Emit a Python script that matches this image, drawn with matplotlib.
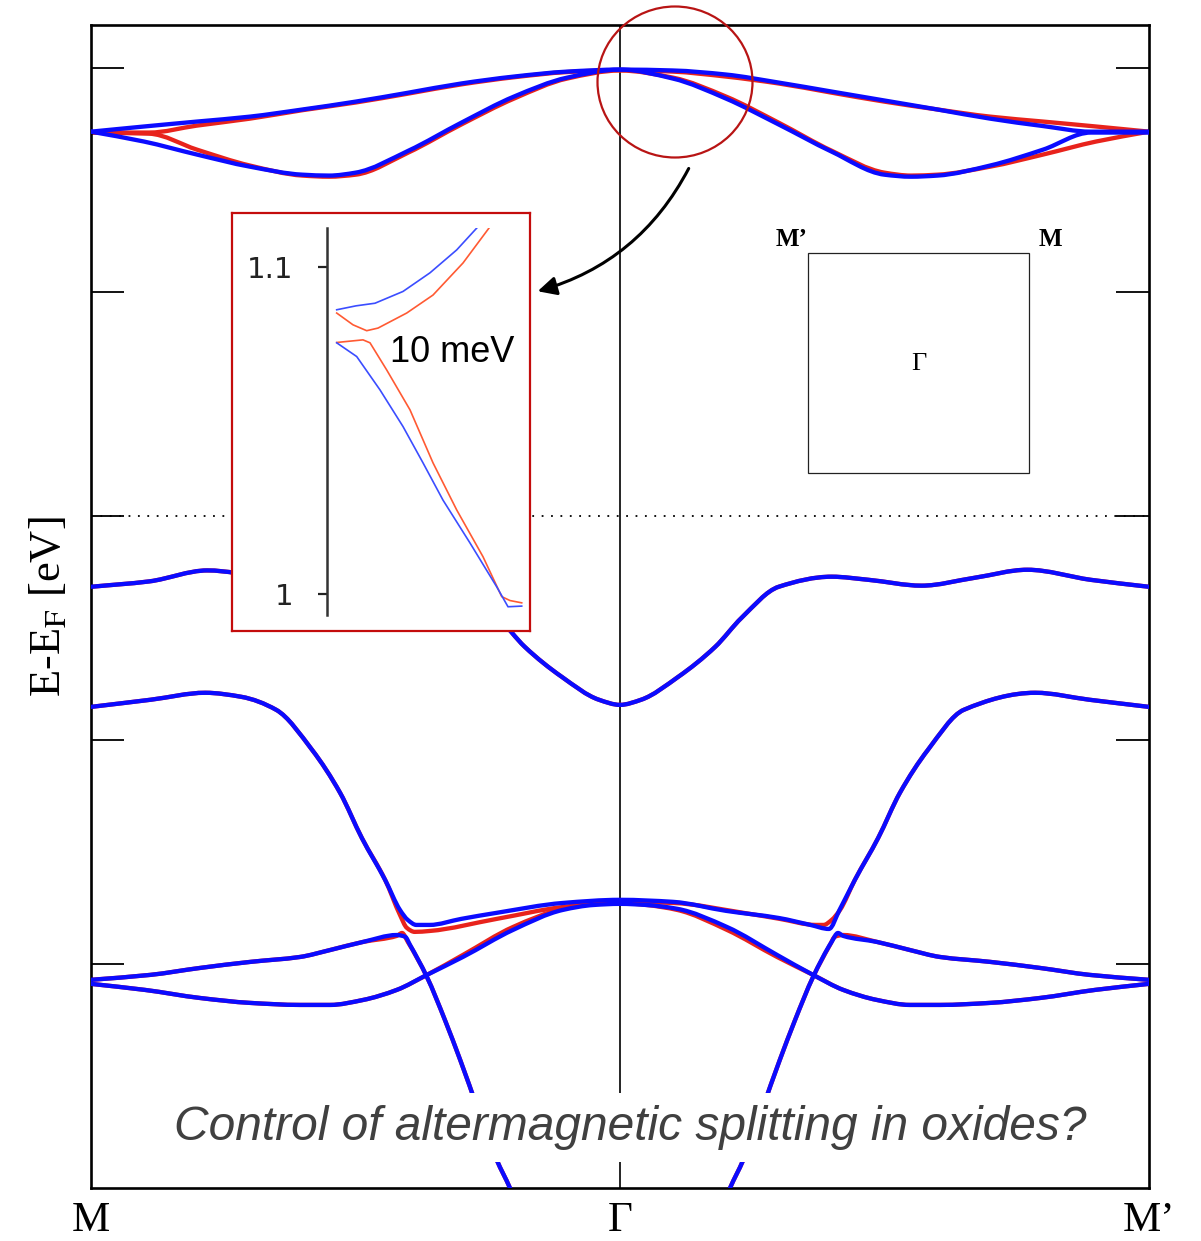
import numpy as np
import matplotlib
matplotlib.use('Agg')
import matplotlib.pyplot as plt
from matplotlib.path import Path
from matplotlib.patches import Ellipse, Rectangle, FancyArrowPatch, PathPatch

# band structure along M - Gamma - M'  (k: M=0, Gamma=1, M'=2 ; energies in eV, E-E_F)

# top pair of bands
top1_dn_k = [0, 0.10, 0.20, 0.30, 0.40, 0.50, 0.60, 0.70, 0.80, 0.90, 1.00,
             1.10, 1.20, 1.30, 1.40, 1.50, 1.60, 1.70, 1.80, 1.89, 2.00]
top1_dn_E = [1.714, 1.737, 1.759, 1.781, 1.813, 1.848, 1.888, 1.929, 1.960, 1.982, 1.991,
             1.987, 1.969, 1.933, 1.893, 1.853, 1.813, 1.772, 1.739, 1.714, 1.714]
top1_up_k = [0, 0.11, 0.20, 0.30, 0.40, 0.50, 0.60, 0.70, 0.80, 0.90, 1.00,
             1.10, 1.20, 1.30, 1.40, 1.50, 1.60, 1.70, 1.80, 1.90, 2.00]
top1_up_E = [1.710, 1.710, 1.741, 1.772, 1.810, 1.844, 1.884, 1.925, 1.957, 1.980, 1.989,
             1.982, 1.960, 1.929, 1.888, 1.848, 1.813, 1.781, 1.759, 1.737, 1.714]

top2_dn_k = [0, 0.10, 0.20, 0.30, 0.40, 0.45, 0.50, 0.60, 0.70, 0.80, 0.90, 1.00,
             1.10, 1.20, 1.30, 1.40, 1.50, 1.55, 1.60, 1.70, 1.80, 1.89, 2.00]
top2_dn_E = [1.714, 1.670, 1.612, 1.558, 1.522, 1.518, 1.531, 1.629, 1.754, 1.871, 1.955, 1.991,
             1.951, 1.862, 1.746, 1.625, 1.522, 1.513, 1.518, 1.563, 1.634, 1.710, 1.710]
top2_up_k = [0, 0.11, 0.20, 0.30, 0.40, 0.45, 0.50, 0.60, 0.70, 0.80, 0.90, 1.00,
             1.10, 1.20, 1.30, 1.40, 1.50, 1.55, 1.60, 1.70, 1.80, 1.90, 2.00]
top2_up_E = [1.710, 1.705, 1.634, 1.563, 1.518, 1.513, 1.522, 1.621, 1.746, 1.862, 1.951, 1.987,
             1.955, 1.871, 1.754, 1.629, 1.531, 1.518, 1.522, 1.558, 1.612, 1.670, 1.714]

# band crossing E_F region (both spins nearly identical)
mid1_k = [0, 0.11, 0.22, 0.33, 0.43, 0.53, 0.60, 0.70, 0.77, 0.82, 0.89, 0.96, 1.00,
          1.04, 1.11, 1.18, 1.23, 1.30, 1.40, 1.47, 1.57, 1.67, 1.77, 1.89, 2.00]
mid1_E = [-0.317, -0.293, -0.244, -0.277, -0.312, -0.286, -0.272, -0.317, -0.455, -0.585,
          -0.719, -0.821, -0.844, -0.821, -0.719, -0.585, -0.455, -0.317, -0.272,
          -0.286, -0.312, -0.277, -0.241, -0.286, -0.317]

# band coming down from -0.85 eV into the lower manifold
mid2_dn_k = [0, 0.113, 0.216, 0.284, 0.35, 0.418, 0.471, 0.512, 0.556, 0.584, 0.599, 0.615,
             0.64, 0.70, 0.767, 0.892, 1.00, 1.10, 1.20, 1.30, 1.36, 1.395, 1.415, 1.444,
             1.488, 1.529, 1.582, 1.650, 1.785, 1.887, 2.00]
mid2_dn_E = [-0.853, -0.821, -0.790, -0.808, -0.866, -1.045, -1.237, -1.438, -1.625, -1.759,
             -1.804, -1.826, -1.826, -1.799, -1.772, -1.728, -1.714, -1.723, -1.763, -1.795,
             -1.826, -1.844, -1.759, -1.625, -1.438, -1.237, -1.045, -0.866, -0.790, -0.821,
             -0.853]
mid2_up_k = [0, 0.113, 0.216, 0.284, 0.35, 0.418, 0.471, 0.512, 0.556, 0.584, 0.597, 0.612,
             0.64, 0.767, 0.892, 1.00, 1.10, 1.233, 1.302, 1.37, 1.385, 1.40, 1.416, 1.444,
             1.488, 1.529, 1.582, 1.650, 1.785, 1.887, 2.00]
mid2_up_E = [-0.853, -0.821, -0.790, -0.808, -0.866, -1.045, -1.237, -1.438, -1.625, -1.781,
             -1.839, -1.857, -1.853, -1.799, -1.746, -1.723, -1.728, -1.772, -1.799, -1.826,
             -1.826, -1.804, -1.759, -1.625, -1.438, -1.237, -1.045, -0.866, -0.790, -0.821,
             -0.853]

# steep band (left branch and right branch)
low1L_dn_k = [0, 0.112, 0.206, 0.301, 0.395, 0.452, 0.514, 0.578, 0.594, 0.603, 0.635, 0.669,
              0.698, 0.767, 0.792, 0.802]
low1L_dn_E = [-2.071, -2.049, -2.018, -1.991, -1.969, -1.938, -1.902, -1.871, -1.879, -1.915,
              -2.058, -2.250, -2.429, -2.875, -3.000, -3.058]
low1L_up_k = [0, 0.112, 0.206, 0.301, 0.395, 0.452, 0.514, 0.578, 0.588, 0.599, 0.635, 0.669,
              0.698, 0.767, 0.792, 0.802]
low1L_up_E = [-2.071, -2.049, -2.018, -1.991, -1.969, -1.938, -1.902, -1.875, -1.862, -1.902,
              -2.058, -2.250, -2.429, -2.875, -3.000, -3.058]
low1R_dn_k = [1.198, 1.208, 1.233, 1.302, 1.331, 1.365, 1.40, 1.412, 1.422, 1.486, 1.548,
              1.605, 1.70, 1.794, 1.888, 2.00]
low1R_dn_E = [-3.058, -3.000, -2.875, -2.429, -2.250, -2.058, -1.902, -1.862, -1.875, -1.902,
              -1.938, -1.969, -1.991, -2.018, -2.049, -2.071]
low1R_up_k = [1.198, 1.208, 1.233, 1.302, 1.331, 1.365, 1.397, 1.406, 1.422, 1.486, 1.548,
              1.605, 1.70, 1.794, 1.888, 2.00]
low1R_up_E = [-3.058, -3.000, -2.875, -2.429, -2.250, -2.058, -1.915, -1.879, -1.871, -1.902,
              -1.938, -1.969, -1.991, -2.018, -2.049, -2.071]

# lowest band with the dip near M and M'
low2_dn_k = [0, 0.102, 0.206, 0.301, 0.395, 0.452, 0.514, 0.578, 0.635, 0.703, 0.798, 0.892,
             0.95, 1.00, 1.05, 1.108, 1.202, 1.297, 1.365, 1.422, 1.486, 1.548, 1.605, 1.699,
             1.794, 1.898, 2.00]
low2_dn_E = [-2.089, -2.116, -2.152, -2.174, -2.183, -2.183, -2.161, -2.116, -2.049, -1.969,
             -1.848, -1.759, -1.737, -1.732, -1.737, -1.754, -1.835, -1.960, -2.049, -2.116,
             -2.161, -2.183, -2.183, -2.174, -2.152, -2.116, -2.089]
low2_up_k = low2_dn_k
low2_up_E = [-2.089, -2.116, -2.152, -2.174, -2.183, -2.183, -2.161, -2.116, -2.049, -1.960,
             -1.835, -1.754, -1.732, -1.728, -1.737, -1.759, -1.848, -1.969, -2.049, -2.116,
             -2.161, -2.183, -2.183, -2.174, -2.152, -2.116, -2.089]

spin_up = [(top1_up_k, top1_up_E), (top2_up_k, top2_up_E), (mid1_k, mid1_E),
           (mid2_up_k, mid2_up_E), (low1L_up_k, low1L_up_E), (low1R_up_k, low1R_up_E),
           (low2_up_k, low2_up_E)]
spin_dn = [(top1_dn_k, top1_dn_E), (top2_dn_k, top2_dn_E), (mid1_k, mid1_E),
           (mid2_dn_k, mid2_dn_E), (low1L_dn_k, low1L_dn_E), (low1R_dn_k, low1R_dn_E),
           (low2_dn_k, low2_dn_E)]

# zoomed inset (arbitrary k units, energy in eV)
ins_dn_up_x = [0.0485, 0.145, 0.24, 0.38, 0.515, 0.6485, 0.755]
ins_dn_up_y = [1.0869, 1.0881, 1.0889, 1.0925, 1.0982, 1.1052, 1.1123]
ins_up_up_x = [0.0485, 0.13, 0.1985, 0.255, 0.3985, 0.53, 0.68, 0.815]
ins_up_up_y = [1.0859, 1.0823, 1.0805, 1.0813, 1.0859, 1.0914, 1.1012, 1.1123]
ins_dn_lo_x = [0.0485, 0.1485, 0.265, 0.38, 0.48, 0.58, 0.715, 0.8485, 0.905, 0.9735]
ins_dn_lo_y = [1.0768, 1.0726, 1.0624, 1.0512, 1.0401, 1.0287, 1.0156, 1.0022, 0.9961, 0.9963]
ins_up_lo_x = [0.0485, 0.18, 0.215, 0.2985, 0.415, 0.53, 0.6485, 0.78, 0.8735, 0.915, 0.9735]
ins_up_lo_y = [1.0769, 1.0777, 1.0768, 1.0685, 1.0563, 1.0401, 1.0257, 1.0114, 0.9992,
               0.9980, 0.9973]

kpath_ticks = [0, 1, 2]
kpath_labels = ['M', '\u0393', 'M\u2019']
energy_ticks = [-2, -1, 0, 1, 2]

W, H = 1201, 1241
def fx(x):
    return x / W
def fy(y):
    return 1 - y / H


def band_path(k, E):
    # smooth monotone cubic through the read points, drawn as bezier segments
    x = np.asarray(k, float)
    y = np.asarray(E, float)
    h = np.diff(x)
    d = np.diff(y) / h
    m = np.zeros(len(x))
    m[0], m[-1] = d[0], d[-1]
    for i in range(1, len(x) - 1):
        if d[i - 1] * d[i] > 0:
            w1 = 2 * h[i] + h[i - 1]
            w2 = h[i] + 2 * h[i - 1]
            m[i] = (w1 + w2) / (w1 / d[i - 1] + w2 / d[i])
    verts = [(x[0], y[0])]
    codes = [Path.MOVETO]
    for i in range(len(x) - 1):
        verts += [(x[i] + h[i] / 3, y[i] + m[i] * h[i] / 3),
                  (x[i + 1] - h[i] / 3, y[i + 1] - m[i + 1] * h[i] / 3),
                  (x[i + 1], y[i + 1])]
        codes += [Path.CURVE4] * 3
    return Path(verts, codes)


RED = '#e8231c'
BLUE = '#0b0bff'

plt.rcParams['mathtext.fontset'] = 'stix'
fig = plt.figure(figsize=(W / 100, H / 100), dpi=100)

ax = fig.add_axes([fx(91), fy(1188), fx(1149) - fx(91), fy(25) - fy(1188)])
for k, E in spin_up:
    ax.add_patch(PathPatch(band_path(k, E), fill=False, edgecolor=RED, lw=3.1,
                           capstyle='round', joinstyle='round', zorder=2))
for k, E in spin_dn:
    ax.add_patch(PathPatch(band_path(k, E), fill=False, edgecolor=BLUE, lw=3.1,
                           capstyle='round', joinstyle='round', zorder=3))
ax.set_xlim(0, 2)
ax.set_ylim(-3.0, 2.19)
ax.axvline(1, color='k', lw=1.2, zorder=1)
ax.axhline(0, color='k', lw=1.3, ls=(0, (1, 4.2)), zorder=1)

ax.set_xticks(kpath_ticks)
ax.set_xticklabels(kpath_labels, family='Liberation Serif', fontsize=31)
ax.tick_params(axis='x', length=0, pad=10)
ax.set_yticks(energy_ticks)
ax.set_yticklabels([])
ax.tick_params(axis='y', direction='in', length=24, width=1.3, left=True, right=True)
for s in ax.spines.values():
    s.set_linewidth(1.9)
ax.set_ylabel('E-E$_{\\mathrm{F}}$ [eV]', family='Liberation Serif', fontsize=32, labelpad=12)

ax.text(1.02, -2.73, 'Control of altermagnetic splitting in oxides?', ha='center', va='center',
        fontsize=34.5, style='italic', color='#404040', family='Liberation Sans',
        bbox=dict(facecolor='white', edgecolor='none', pad=9), zorder=6)

# zoom box
box = fig.add_axes([fx(232), fy(631), fx(530) - fx(232), fy(213) - fy(631)], zorder=3)
box.set_xticks([])
box.set_yticks([])
box.set_facecolor('white')
for s in box.spines.values():
    s.set_color('#c40c0c')
    s.set_linewidth(1.6)

ins = fig.add_axes([fx(327), fy(615), fx(527) - fx(327), fy(228) - fy(615)], zorder=4)
ins.set_facecolor('none')
ins.plot(ins_up_up_x, ins_up_up_y, color='#ff5a33', lw=1.2)
ins.plot(ins_up_lo_x, ins_up_lo_y, color='#ff5a33', lw=1.2)
ins.plot(ins_dn_up_x, ins_dn_up_y, color='#3b4dff', lw=1.2)
ins.plot(ins_dn_lo_x, ins_dn_lo_y, color='#3b4dff', lw=1.2)
ins.set_xlim(0, 1)
ins.set_ylim(0.99358, 1.1119)
ins.set_xticks([])
ins.set_yticks([1.0, 1.1])
ins.set_yticklabels(['1', '1.1'])
ins.tick_params(axis='y', length=6.5, width=1.6, pad=18, labelsize=21, colors='#222222')
for side in ['top', 'right', 'bottom']:
    ins.spines[side].set_visible(False)
ins.spines['left'].set_linewidth(1.8)
ins.spines['left'].set_color('#333333')
fig.text(fx(390), fy(362), '10 meV', family='Liberation Sans', fontsize=26, zorder=5)

# circle and arrow
fig.add_artist(Ellipse((fx(675), fy(82)), 155 / W, 151 / H, transform=fig.transFigure,
                       fill=False, edgecolor='#b81414', lw=1.6, zorder=5))
fig.add_artist(FancyArrowPatch((fx(690), fy(166)), (fx(535), fy(292)),
                               transform=fig.transFigure, connectionstyle='arc3,rad=-0.22',
                               arrowstyle='-|>,head_length=0.8,head_width=0.4',
                               mutation_scale=14, lw=2.2, color='k', zorder=5))

# Brillouin zone sketch
fig.add_artist(Rectangle((fx(808), fy(473)), (1029 - 808) / W, (473 - 253) / H,
                         transform=fig.transFigure, fill=False, edgecolor='#222222', lw=0.9))
fig.text(fx(792), fy(240), 'M\u2019', family='Liberation Serif', weight='bold', fontsize=18,
         ha='center', va='center')
fig.text(fx(1050), fy(240), 'M', family='Liberation Serif', weight='bold', fontsize=18,
         ha='center', va='center')
fig.text(fx(919), fy(364), '\u0393', family='Liberation Serif', fontsize=19,
         ha='center', va='center')

fig.savefig('out.png', dpi=100)
